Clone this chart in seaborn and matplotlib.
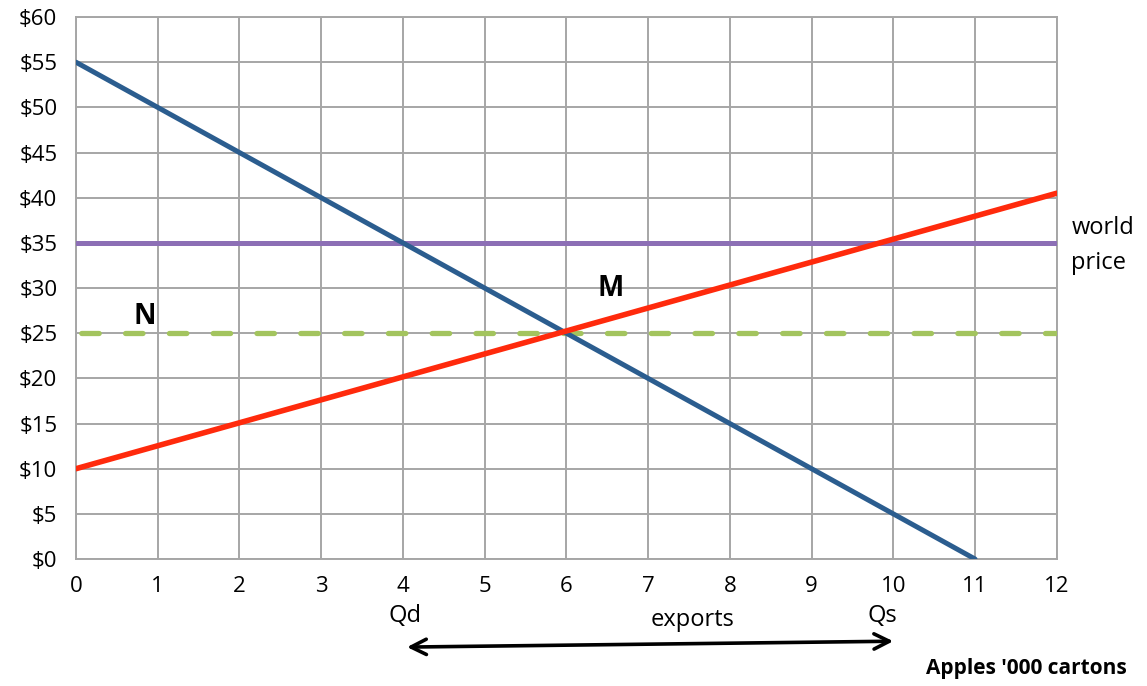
import matplotlib
matplotlib.use("Agg")
import matplotlib.pyplot as plt
import seaborn as sns
import pandas as pd

# Quantity (thousand cartons) and price ($) points for each curve
demand_q = [0, 11]
demand_p = [55, 0]
supply_q = [0, 12]
supply_p = [10, 40.5]
world_q = [0, 12]
world_p = [35, 35]
domestic_q = [0, 12]
domestic_p = [25, 25]

x_ticks = list(range(0, 13))
y_ticks = list(range(0, 61, 5))
y_tick_labels = [f"${v}" for v in y_ticks]

sns.set_style("white")
plt.rcParams["font.family"] = ["Open Sans", "DejaVu Sans"]
plt.rcParams["text.color"] = "black"

fig = plt.figure(figsize=(11.47, 6.86), dpi=100)
ax = fig.add_axes([0.0663, 0.1851, 0.855, 0.790])

grid_color = "#A6A6A6"

def frame(q, p):
    return pd.DataFrame({"q": q, "p": p})

sns.lineplot(data=frame(world_q, world_p), x="q", y="p", ax=ax,
             color="#8C6FB5", linewidth=3.6, zorder=3)
sns.lineplot(data=frame(domestic_q, domestic_p), x="q", y="p", ax=ax,
             color="#A3C45E", linewidth=3.8, zorder=3,
             dashes=False, solid_capstyle="round")
ax.lines[-1].set_linestyle((-1.0, (3.3, 5.0)))
ax.lines[-1].set_dash_capstyle("round")
sns.lineplot(data=frame(demand_q, demand_p), x="q", y="p", ax=ax,
             color="#2B5D8F", linewidth=3.6, zorder=4)
sns.lineplot(data=frame(supply_q, supply_p), x="q", y="p", ax=ax,
             color="#FF2A0C", linewidth=4.0, zorder=5)

ax.set_xlim(0, 12)
ax.set_ylim(0, 60)
ax.set_xticks(x_ticks)
ax.set_yticks(y_ticks)
ax.set_yticklabels(y_tick_labels)
ax.set_xlabel("")
ax.set_ylabel("")

ax.grid(True, color=grid_color, linewidth=1.4, zorder=0)
ax.set_axisbelow(True)
for side in ["left", "bottom", "right", "top"]:
    ax.spines[side].set_visible(True)
    ax.spines[side].set_color(grid_color)
    ax.spines[side].set_linewidth(1.4)

ax.tick_params(axis="both", which="major", direction="out", length=6.5,
               width=1.4, color=grid_color, labelsize=16, labelcolor="black")
ax.tick_params(axis="y", pad=7)
ax.tick_params(axis="x", pad=6)

# Point labels
ax.text(0.84, 26.8, "N", fontsize=20, fontweight="bold", ha="center",
        va="center", zorder=6)
ax.text(6.54, 30.0, "M", fontsize=20, fontweight="bold", ha="center",
        va="center", zorder=6)

# World price label beyond the right edge
ax.text(12.18, 36.6, "world", fontsize=17, ha="left", va="center", clip_on=False)
ax.text(12.18, 32.8, "price", fontsize=17, ha="left", va="center", clip_on=False)

# Quantity annotations under the axis
ax.text(4.02, -6.3, "Qd", fontsize=17, ha="center", va="center", clip_on=False)
ax.text(7.54, -6.75, "exports", fontsize=17, ha="center", va="center", clip_on=False)
ax.text(9.87, -6.3, "Qs", fontsize=17, ha="center", va="center", clip_on=False)

ax.annotate("", xy=(4.05, -9.75), xytext=(10.0, -9.1),
            xycoords="data", textcoords="data", annotation_clip=False,
            arrowprops=dict(arrowstyle="<->,head_length=1.1,head_width=0.55",
                            color="black", linewidth=2.6,
                            shrinkA=0, shrinkB=0))

ax.text(11.63, -12.1, "Apples '000 cartons", fontsize=15, fontweight="bold",
        ha="center", va="center", clip_on=False)

fig.savefig("out.png", dpi=100)
